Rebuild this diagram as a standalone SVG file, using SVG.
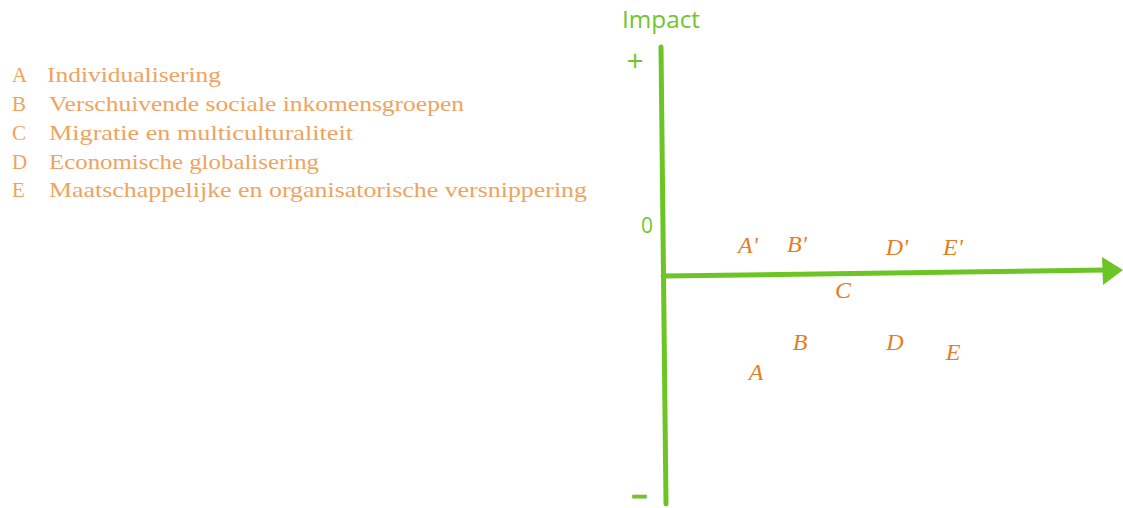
<svg xmlns="http://www.w3.org/2000/svg" width="1123" height="508" viewBox="0 0 1123 508">
<style>
.leg{font-family:"Liberation Serif",serif;font-size:21px;fill:#f0a35e}
.pt{font-family:"Liberation Serif",serif;font-style:italic;font-size:24px;fill:#e57e22;text-anchor:middle}
.gr{font-family:"Open Sans",sans-serif;fill:#72c52c}
.ax{stroke:#6cc524;stroke-width:5;fill:none;stroke-linecap:round}
</style>
<rect width="1123" height="508" fill="#ffffff"/>
<g id="legend">
<text class="leg" x="12" y="82">A</text><text class="leg" x="47" y="82" textLength="174" lengthAdjust="spacingAndGlyphs">Individualisering</text>
<text class="leg" x="12" y="111">B</text><text class="leg" x="49" y="111" textLength="415" lengthAdjust="spacingAndGlyphs">Verschuivende sociale inkomensgroepen</text>
<text class="leg" x="12" y="140">C</text><text class="leg" x="49" y="140" textLength="304" lengthAdjust="spacingAndGlyphs">Migratie en multiculturaliteit</text>
<text class="leg" x="12" y="169">D</text><text class="leg" x="49" y="169" textLength="270" lengthAdjust="spacingAndGlyphs">Economische globalisering</text>
<text class="leg" x="12" y="197">E</text><text class="leg" x="49" y="197" textLength="538" lengthAdjust="spacingAndGlyphs">Maatschappelijke en organisatorische versnippering</text>
</g>
<g id="connectors">
<path class="ax" d="M661,47 L666,504"/>
<path class="ax" d="M663,276 L1106,270"/>
<polygon points="1102,257 1123,270 1103,285" fill="#6cc524"/>
</g>
<g id="axis-labels">
<text class="gr" x="622" y="28" font-size="24" textLength="78" lengthAdjust="spacingAndGlyphs">Impact</text>
<text class="gr" x="635" y="71" font-size="30" text-anchor="middle">+</text>
<text class="gr" x="647" y="233" font-size="21" text-anchor="middle">0</text>
<text class="gr" x="632" y="502" font-size="22" font-weight="bold" stroke="#72c52c" stroke-width="1.2" textLength="15" lengthAdjust="spacingAndGlyphs">-</text>
</g>
<g id="point-Aprime"><text class="pt" x="748" y="253">A'</text></g>
<g id="point-Bprime"><text class="pt" x="797" y="252">B'</text></g>
<g id="point-Dprime"><text class="pt" x="897" y="255">D'</text></g>
<g id="point-Eprime"><text class="pt" x="953" y="255">E'</text></g>
<g id="point-C"><text class="pt" x="843" y="298">C</text></g>
<g id="point-B"><text class="pt" x="800" y="350">B</text></g>
<g id="point-D"><text class="pt" x="895" y="350">D</text></g>
<g id="point-E"><text class="pt" x="953" y="360">E</text></g>
<g id="point-A"><text class="pt" x="756" y="380">A</text></g>
</svg>
